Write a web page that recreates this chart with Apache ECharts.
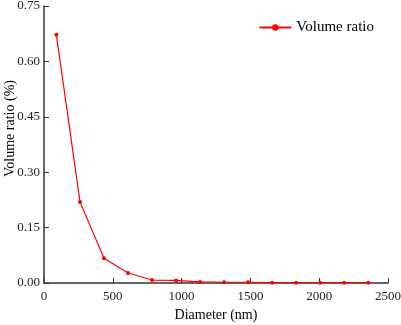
<!DOCTYPE html>
<html>
<head>
<meta charset="utf-8">
<script src="https://cdn.jsdelivr.net/npm/echarts@6/dist/echarts.min.js"></script>
<style>
  html, body { margin: 0; padding: 0; background: #fff; }
  #chart { width: 401px; height: 325px; }
</style>
</head>
<body>
<div id="chart"></div>
<script>
// diameter (nm) and volume ratio (%)
var diameters = [90, 262, 436, 611, 785, 960, 1134, 1309, 1483, 1658, 1832, 2007, 2181, 2356];
var volumeRatio = [0.672, 0.219, 0.067, 0.027, 0.008, 0.007, 0.003, 0.002, 0.002, 0.001, 0.001, 0.001, 0.001, 0.001];
var seriesName = "Volume ratio";

var points = [];
for (var i = 0; i < diameters.length; i++) {
  points.push([diameters[i], volumeRatio[i]]);
}

var font = "'Liberation Serif', 'Times New Roman', serif";
var axisColor = "#333";

const myChart = echarts.init(document.getElementById("chart"));
var option = {
  animation: false,
  textStyle: { fontFamily: font },
  grid: {
    left: 44,
    right: 13,
    top: 6,
    bottom: 42,
    containLabel: false,
    outerBoundsMode: "none",
  },
  legend: {
    top: 15,
    right: 22,
    itemWidth: 32,
    itemHeight: 8,
    itemGap: 4,
    textStyle: { fontFamily: font, fontSize: 15, color: "#000" },
    data: [seriesName],
  },
  xAxis: {
    type: "value",
    min: 0,
    max: 2500,
    interval: 500,
    name: "Diameter (nm)",
    nameLocation: "middle",
    nameGap: 25,
    nameMoveOverlap: false,
    nameTextStyle: { fontFamily: font, fontSize: 14, color: "#000" },
    axisLine: { lineStyle: { color: axisColor, width: 1.5 } },
    axisTick: { inside: true, length: 5, lineStyle: { color: axisColor } },
    axisLabel: {
      fontFamily: font,
      fontSize: 13,
      color: "#222",
      margin: 7,
      formatter: function (v) { return String(v); },
    },
    splitLine: { show: false },
  },
  yAxis: {
    type: "value",
    min: 0,
    max: 0.75,
    interval: 0.15,
    name: "Volume ratio (%)",
    nameLocation: "middle",
    nameGap: 27,
    nameMoveOverlap: false,
    // reference title sits a bit above the middle of the axis
    nameTextStyle: { fontFamily: font, fontSize: 14, color: "#000", padding: [0, 0, 0, 32] },
    axisLine: { show: true, lineStyle: { color: axisColor, width: 1.5 } },
    axisTick: { show: true, inside: true, length: 5, lineStyle: { color: axisColor } },
    axisLabel: {
      fontFamily: font,
      fontSize: 13,
      color: "#222",
      margin: 4,
      formatter: function (v) { return v.toFixed(2); },
    },
    splitLine: { show: false },
  },
  series: [
    {
      name: seriesName,
      type: "line",
      data: points,
      symbol: "circle",
      symbolSize: 4,
      lineStyle: { color: "#ff0000", width: 1.2 },
      itemStyle: { color: "#ff0000" },
    },
  ],
};
myChart.setOption(option);
</script>
</body>
</html>
